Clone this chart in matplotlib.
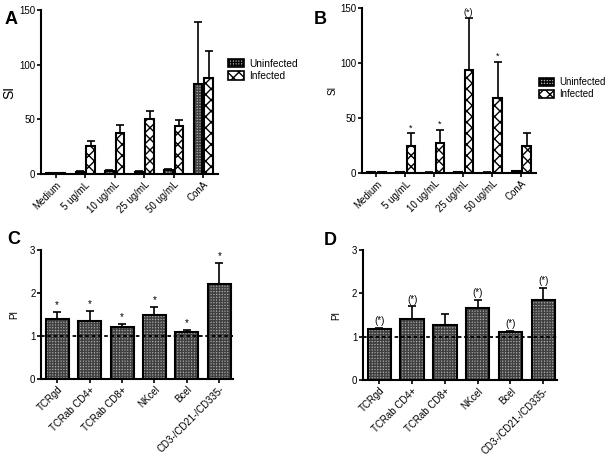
import numpy as np
import matplotlib.pyplot as plt
from matplotlib.patches import Patch

plt.rcParams['font.family'] = ['Liberation Sans', 'DejaVu Sans']
plt.rcParams['hatch.linewidth'] = 1.0

doses = ['Medium', '5 ug/mL', '10 ug/mL', '25 ug/mL', '50 ug/mL', 'ConA']
a_uninf = [1, 2, 3, 2, 4, 82]
a_uninf_err = [0.3, 0.5, 0.5, 0.5, 0.8, 57]
a_inf = [1, 26, 38, 50, 44, 88]
a_inf_err = [0.3, 4, 7, 8, 5, 25]

b_uninf = [1, 1, 0.5, 1, 0.5, 2]
b_uninf_err = [0.2, 0.2, 0.2, 0.2, 0.2, 0.3]
b_inf = [1, 25, 27, 94, 68, 25]
b_inf_err = [0.2, 11, 12, 47, 33, 11]
b_marks = ['', '*', '*', '(*)', '*', '']

cells = ['TCRgd', 'TCRab CD4+', 'TCRab CD8+', 'NKcel', 'Bcel', 'CD3-/CD21-/CD335-']
c_pi = [1.4, 1.35, 1.2, 1.5, 1.1, 2.2]
c_err = [0.17, 0.23, 0.09, 0.17, 0.04, 0.5]
c_marks = ['*', '*', '*', '*', '*', '*']
d_pi = [1.17, 1.4, 1.27, 1.66, 1.1, 1.85]
d_err = [0.03, 0.3, 0.26, 0.19, 0.03, 0.28]
d_marks = ['(*)', '(*)', '', '(*)', '(*)', '(*)']

fig = plt.figure(figsize=(6.13, 4.58), dpi=100)

uninf_style = dict(facecolor='#b0b0b0', hatch='++++++', hcolor='#404040')
inf_style = dict(facecolor='white', hatch='xxx', hcolor='black')


def hbar(ax, x, h, w, style, err):
    ax.bar(x, h, w, color=style['facecolor'], hatch=style['hatch'],
           edgecolor=style['hcolor'], linewidth=0, zorder=2)
    ax.bar(x, h, w, fill=False, edgecolor='black', linewidth=1.5, zorder=3)
    ax.errorbar(x, h, yerr=[np.zeros(len(err)), err], fmt='none',
                ecolor='black', elinewidth=1.2, capsize=3, capthick=1.2, zorder=1)


def style_axes(ax, fs):
    for s in ['top', 'right']:
        ax.spines[s].set_visible(False)
    for s in ['left', 'bottom']:
        ax.spines[s].set_linewidth(1.5)
    ax.tick_params(width=1.2, length=3, labelsize=fs, pad=1)


def si_panel(rect, uninf, uerr, inf, ierr, marks, ylfs, leg_xy, leg_fs):
    ax = fig.add_axes(rect)
    x = np.arange(len(doses))
    w = 0.29
    hbar(ax, x - 0.185, uninf, w, uninf_style, uerr)
    hbar(ax, x + 0.185, inf, w, inf_style, ierr)
    if marks:
        for xi, v, e, m in zip(x, inf, ierr, marks):
            if m:
                ax.text(xi + 0.185, v + e + 1, m, ha='center', va='bottom', fontsize=6.5)
    ax.set_xlim(-0.5, 5.5)
    ax.set_ylim(0, 150)
    ax.set_yticks([0, 50, 100, 150])
    ax.set_xticks(x)
    ax.set_xticklabels(doses, rotation=45, ha='right', rotation_mode='anchor')
    style_axes(ax, 7)
    ax.set_ylabel('SI', fontsize=ylfs, labelpad=2)
    handles = [Patch(facecolor=uninf_style['facecolor'], hatch=uninf_style['hatch'],
                     edgecolor='black', linewidth=1.2),
               Patch(facecolor='white', hatch=inf_style['hatch'],
                     edgecolor='black', linewidth=1.2)]
    fig.legend(handles, ['Uninfected', 'Infected'], loc='upper left',
               bbox_to_anchor=leg_xy, frameon=False, fontsize=leg_fs,
               handlelength=1.6, handleheight=0.9, handletextpad=0.5,
               labelspacing=0.25, borderaxespad=0, borderpad=0)
    return ax


def pi_panel(rect, vals, err, marks):
    ax = fig.add_axes(rect)
    x = np.arange(len(cells))
    style = dict(facecolor='#a8a8a8', hatch='++++++', hcolor='#404040')
    hbar(ax, x, vals, 0.71, style, err)
    ax.axhline(1, color='black', linestyle=(0, (2, 1.5)), linewidth=1.3, zorder=4)
    for xi, v, e, m in zip(x, vals, err, marks):
        if m:
            ax.text(xi, v + e + 0.04, m, ha='center', va='bottom', fontsize=7)
    ax.set_xlim(-0.5, 5.42)
    ax.set_ylim(0, 3)
    ax.set_yticks([0, 1, 2, 3])
    ax.set_xticks(x)
    ax.set_xticklabels(cells, rotation=45, ha='right', rotation_mode='anchor')
    style_axes(ax, 7)
    ax.set_ylabel('PI', fontsize=7, labelpad=8)
    return ax


si_panel([0.0669, 0.620, 0.2887, 0.358], a_uninf, a_uninf_err, a_inf, a_inf_err,
         None, 10, (0.372, 0.872), 7.3)
si_panel([0.5905, 0.622, 0.2835, 0.3605], b_uninf, b_uninf_err, b_inf, b_inf_err,
         b_marks, 7, (0.879, 0.832), 7.0)
pi_panel([0.0669, 0.1725, 0.313, 0.2815], c_pi, c_err, c_marks)
pi_panel([0.592, 0.170, 0.3167, 0.284], d_pi, d_err, d_marks)

fig.text(0.008, 0.975, 'A', fontsize=13, fontweight='bold', va='top')
fig.text(0.512, 0.975, 'B', fontsize=13, fontweight='bold', va='top')
fig.text(0.012, 0.495, 'C', fontsize=13, fontweight='bold', va='top')
fig.text(0.528, 0.493, 'D', fontsize=13, fontweight='bold', va='top')

fig.savefig('out.png', dpi=100)
